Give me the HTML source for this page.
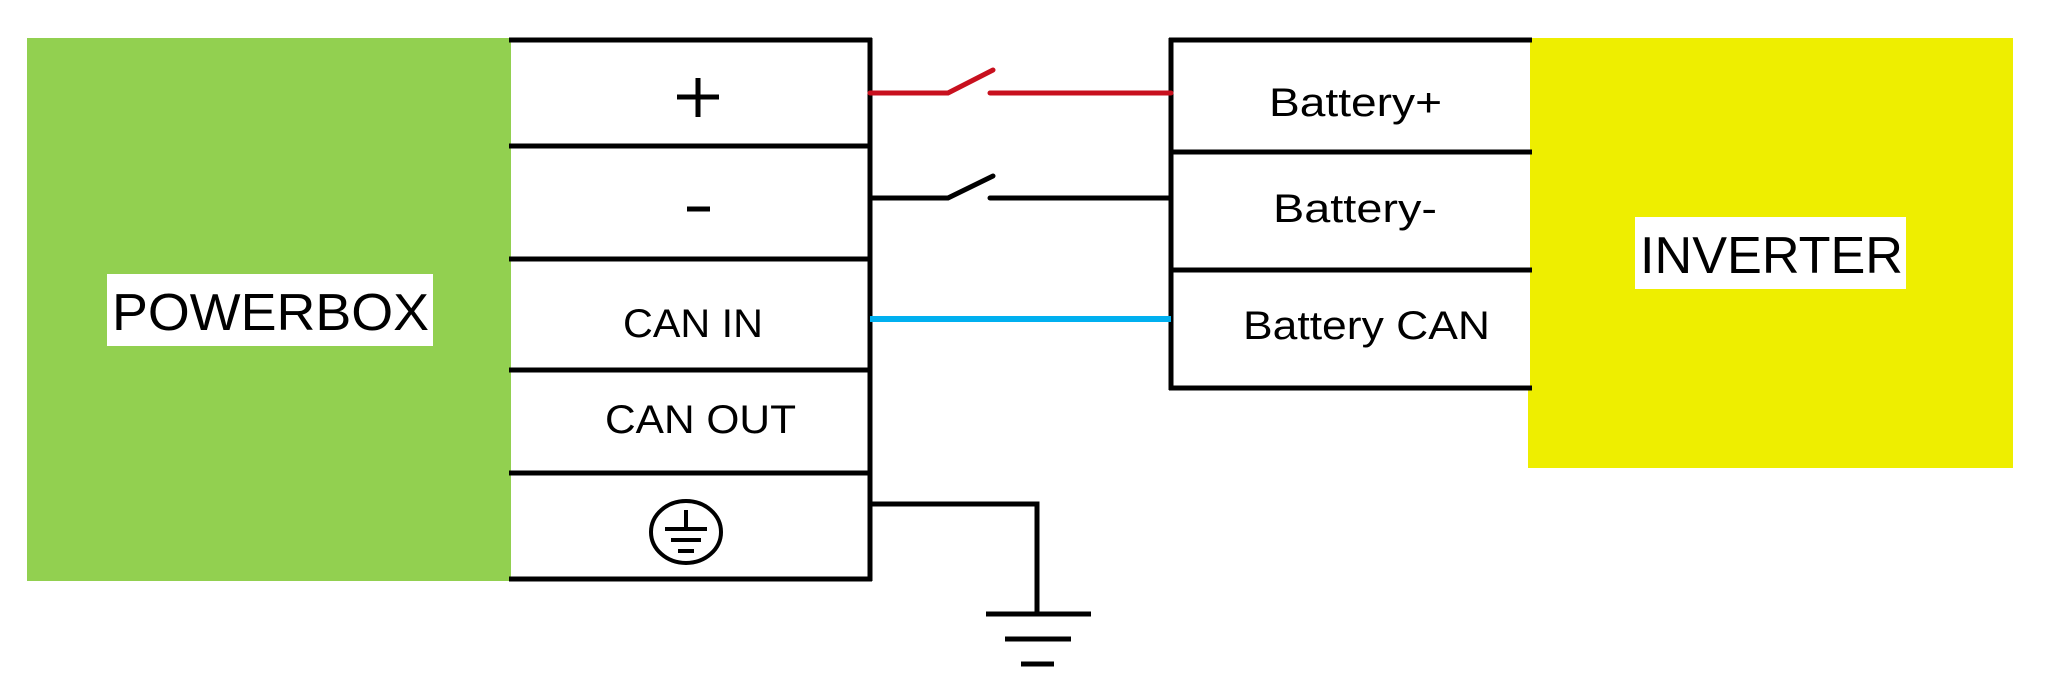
<!DOCTYPE html>
<html><head><meta charset="utf-8"><style>
html,body{margin:0;padding:0;background:#fff;}
svg{display:block;}
text{font-family:"Liberation Sans",sans-serif;fill:#000;}
</style></head><body>
<svg width="2045" height="678" viewBox="0 0 2045 678" xmlns="http://www.w3.org/2000/svg">
<rect x="27" y="38" width="484" height="543" fill="#92d050"/>
<rect x="1528" y="38" width="485" height="430" fill="#eeee00"/>
<rect x="511" y="40" width="359" height="539" fill="#fff"/>
<rect x="1171" y="40" width="359" height="348" fill="#fff"/>
<rect x="107" y="274" width="326" height="72" fill="#fff"/>
<rect x="1635" y="217" width="271" height="72" fill="#fff"/>
<g stroke="#000" stroke-width="5" fill="none">
<line x1="509" y1="40" x2="872" y2="40"/>
<line x1="509" y1="146" x2="872" y2="146"/>
<line x1="509" y1="259" x2="872" y2="259"/>
<line x1="509" y1="370" x2="872" y2="370"/>
<line x1="509" y1="473" x2="872" y2="473"/>
<line x1="509" y1="579" x2="872" y2="579"/>
<line x1="870" y1="38" x2="870" y2="581"/>
<line x1="1171" y1="38" x2="1171" y2="390"/>
<line x1="1169" y1="40" x2="1532" y2="40"/>
<line x1="1169" y1="152" x2="1532" y2="152"/>
<line x1="1169" y1="270" x2="1532" y2="270"/>
<line x1="1169" y1="388" x2="1532" y2="388"/>
<polyline points="870,504 1037,504 1037,614"/>
<line x1="986" y1="614" x2="1091" y2="614"/>
<line x1="1005" y1="639" x2="1071" y2="639"/>
<line x1="1021" y1="664" x2="1054" y2="664"/>
<polyline points="870,198 948,198 993,176" stroke-linecap="round"/>
<line x1="990" y1="198" x2="1171" y2="198" stroke-linecap="round"/>
<line x1="677" y1="97" x2="719" y2="97"/>
<line x1="698" y1="78" x2="698" y2="117"/>
<line x1="687" y1="209" x2="710" y2="209"/>
<ellipse cx="686" cy="532" rx="35" ry="31" stroke-width="4"/>
<line x1="686" y1="510" x2="686" y2="529" stroke-width="4"/>
<line x1="665" y1="529" x2="707" y2="529" stroke-width="4"/>
<line x1="671" y1="540" x2="701" y2="540" stroke-width="4"/>
<line x1="678" y1="551" x2="694" y2="551" stroke-width="4"/>
</g>
<polyline points="870,93 948,93 993,70" stroke="#c8101e" stroke-width="5" fill="none" stroke-linecap="round"/>
<line x1="990" y1="93" x2="1171" y2="93" stroke="#c8101e" stroke-width="5" stroke-linecap="round"/>
<line x1="870" y1="319" x2="1171" y2="319" stroke="#00b0f0" stroke-width="6"/>
<text x="112" y="330" font-size="52" textLength="317" lengthAdjust="spacingAndGlyphs">POWERBOX</text>
<text x="1640" y="273" font-size="52" textLength="263" lengthAdjust="spacingAndGlyphs">INVERTER</text>
<text x="623" y="337" font-size="40" textLength="140" lengthAdjust="spacingAndGlyphs">CAN IN</text>
<text x="605" y="433" font-size="40" textLength="191" lengthAdjust="spacingAndGlyphs">CAN OUT</text>
<text x="1269" y="116" font-size="40" textLength="173" lengthAdjust="spacingAndGlyphs">Battery+</text>
<text x="1273" y="222" font-size="40" textLength="164" lengthAdjust="spacingAndGlyphs">Battery-</text>
<text x="1243" y="339" font-size="40" textLength="247" lengthAdjust="spacingAndGlyphs">Battery CAN</text>
</svg>
</body></html>
